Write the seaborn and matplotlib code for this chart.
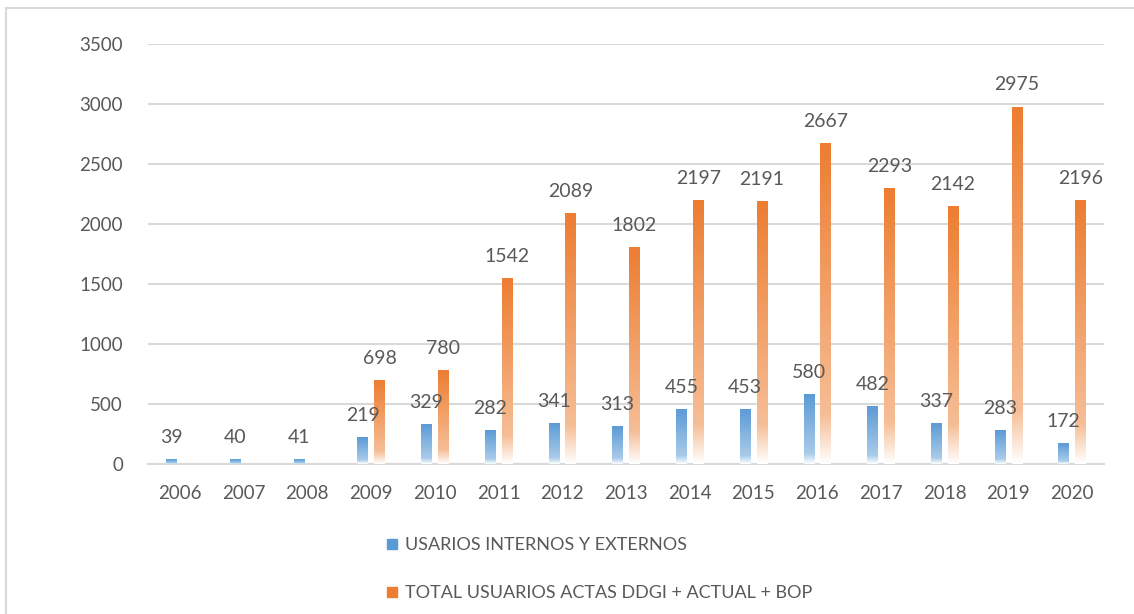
import matplotlib

matplotlib.use("Agg")
import matplotlib.pyplot as plt
import numpy as np
import pandas as pd
import seaborn as sns
from matplotlib.colors import LinearSegmentedColormap
from matplotlib.lines import Line2D

# Data
years = [str(y) for y in range(2006, 2021)]
internos = [39, 40, 41, 219, 329, 282, 341, 313, 455, 453, 580, 482, 337, 283, 172]
total = [np.nan, np.nan, np.nan, 698, 780, 1542, 2089, 1802, 2197, 2191,
         2667, 2293, 2142, 2975, 2196]
series_names = ["USARIOS INTERNOS Y EXTERNOS",
                "TOTAL USUARIOS ACTAS DDGI + ACTUAL + BOP"]

blue = "#5B9BD5"
orange = "#ED7D31"
text_col = "#595959"
grid_col = "#D9D9D9"

df = pd.DataFrame({
    "year": years * 2,
    "value": internos + total,
    "serie": [series_names[0]] * len(years) + [series_names[1]] * len(years),
})

sns.set_theme(style="white")
plt.rcParams["font.family"] = ["Lato", "DejaVu Sans"]

fig = plt.figure(figsize=(11.34, 6.14), dpi=100)
ax = fig.add_axes([148 / 1134, 150 / 614, 956 / 1134, 420 / 614])

sns.barplot(
    data=df, x="year", y="value", hue="serie", hue_order=series_names,
    order=years, palette=[blue, orange], errorbar=None,
    width=0.53, gap=0.38, ax=ax,
)
ax.get_legend().remove()

# gradient fill: solid at the top, fading to white at the base
cmaps = [
    LinearSegmentedColormap.from_list("b", [(0, "#FFFFFF"), (0.15, "#A9CBEA"), (1, blue)]),
    LinearSegmentedColormap.from_list("o", [(0, "#FFFFFF"), (0.15, "#F6BE96"), (1, orange)]),
]
grad = np.linspace(0, 1, 256).reshape(-1, 1)
for container, cmap in zip(ax.containers, cmaps):
    for bar in container:
        h = bar.get_height()
        if not np.isfinite(h) or h <= 0:
            continue
        x0 = bar.get_x()
        w = bar.get_width()
        bar.set_alpha(0)
        ax.imshow(grad, extent=[x0, x0 + w, 0, h], origin="lower",
                  aspect="auto", cmap=cmap, zorder=3, interpolation="bilinear")
        ax.annotate(f"{h:.0f}", (x0 + w / 2, h), xytext=(0, 22),
                    textcoords="offset pixels", ha="center", va="center",
                    fontsize=14, color=text_col, zorder=6)

ax.set_xlim(-0.5, len(years) - 0.5)
ax.set_ylim(0, 3500)
ax.set_yticks(range(0, 3501, 500))
ax.yaxis.grid(True, color=grid_col, lw=1.5)
ax.set_axisbelow(True)
for side in ["top", "right", "left"]:
    ax.spines[side].set_visible(False)
ax.spines["bottom"].set_color(grid_col)
ax.spines["bottom"].set_linewidth(1.5)
ax.tick_params(axis="both", length=0, labelsize=13.5, labelcolor=text_col)
ax.tick_params(axis="y", pad=18)
ax.tick_params(axis="x", pad=15)
ax.set_xlabel("")
ax.set_ylabel("")

handles = [
    Line2D([], [], marker="s", ls="none", color=blue, markersize=7),
    Line2D([], [], marker="s", ls="none", color=orange, markersize=7),
]
leg = fig.legend(handles, series_names, loc="upper left",
                 bbox_to_anchor=(376 / 1134, 1 - 530 / 614), frameon=False,
                 fontsize=13, labelspacing=1.75, handletextpad=0.2,
                 handlelength=1.0, borderaxespad=0)
for t in leg.get_texts():
    t.set_color(text_col)

# chart frame (left and top edges visible)
fig.add_artist(Line2D([6 / 1134, 6 / 1134], [0, 1 - 8 / 614], transform=fig.transFigure,
                      color=grid_col, lw=1.5))
fig.add_artist(Line2D([6 / 1134, 1], [1 - 8 / 614, 1 - 8 / 614], transform=fig.transFigure,
                      color=grid_col, lw=1.5))

fig.savefig("out.png", dpi=100)
